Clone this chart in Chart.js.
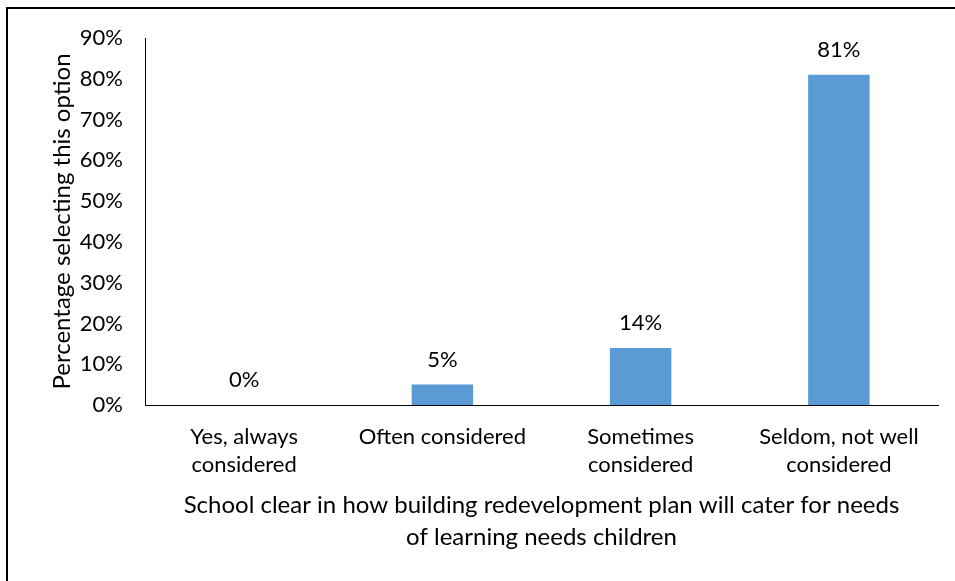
<!DOCTYPE html>
<html>
<head>
<meta charset="utf-8">
<script src="https://cdn.jsdelivr.net/npm/chart.js@4/dist/chart.umd.min.js"></script>
<style>
  html, body { margin: 0; padding: 0; background: #fff; }
  #wrap { width: 955px; height: 581px; position: relative; }
</style>
</head>
<body>
<div id="wrap"><canvas id="c" width="955" height="581"></canvas></div>
<script>
// Survey responses: share of schools choosing each option
const categories = [
  ['Yes, always', 'considered'],
  ['Often considered'],
  ['Sometimes', 'considered'],
  ['Seldom, not well', 'considered']
];
const percentages = [0, 5, 14, 81];
const yTicks = [0, 10, 20, 30, 40, 50, 60, 70, 80, 90];
const yTitle = 'Percentage selecting this option';
const xTitle = [
  'School clear in how building redevelopment plan will cater for needs',
  'of learning needs children'
];

const FONT = 'Lato, "Open Sans", sans-serif';

// Value labels above each bar, plus the frame lines along the top and left
const decorations = {
  id: 'decorations',
  afterDatasetsDraw(chart) {
    const ctx = chart.ctx;
    const meta = chart.getDatasetMeta(0);
    ctx.save();
    ctx.fillStyle = '#000';
    ctx.font = '22px ' + FONT;
    ctx.textAlign = 'center';
    ctx.textBaseline = 'middle';
    meta.data.forEach((bar, i) => {
      ctx.fillText(percentages[i] + '%', bar.x, bar.y - 25);
    });
    ctx.restore();
  },
  afterDraw(chart) {
    const ctx = chart.ctx;
    ctx.save();
    ctx.strokeStyle = '#000';
    ctx.lineWidth = 2;
    ctx.beginPath();
    ctx.moveTo(7, 581);
    ctx.lineTo(7, 8);
    ctx.lineTo(955, 8);
    ctx.stroke();
    ctx.restore();
  }
};

new Chart(document.getElementById('c'), {
  type: 'bar',
  data: {
    labels: categories,
    datasets: [{
      data: percentages,
      backgroundColor: '#5B9BD5',
      borderWidth: 0,
      barPercentage: 0.31,
      categoryPercentage: 1.0
    }]
  },
  options: {
    responsive: false,
    animation: false,
    devicePixelRatio: 1,
    layout: { padding: { top: 38, right: 17, bottom: 0, left: 0 } },
    plugins: {
      legend: { display: false },
      tooltip: { enabled: false }
    },
    scales: {
      x: {
        grid: { display: false, drawTicks: false },
        border: { display: true, color: '#000', width: 1 },
        ticks: {
          color: '#000',
          font: { family: FONT, size: 22, lineHeight: 1.27 },
          padding: 18,
          maxRotation: 0,
          autoSkip: false
        },
        title: {
          display: true,
          text: xTitle,
          color: '#000',
          font: { family: FONT, size: 24, lineHeight: 1.33 },
          padding: { top: 0, bottom: 28 }
        },
        afterFit(scale) { scale.height = 176; }
      },
      y: {
        min: 0,
        max: 90,
        grid: { display: false, drawTicks: false },
        border: { display: true, color: '#000', width: 1 },
        afterBuildTicks(scale) {
          scale.ticks = yTicks.map(v => ({ value: v }));
        },
        ticks: {
          color: '#000',
          font: { family: FONT, size: 22 },
          padding: 22,
          callback: v => v + '%'
        },
        title: {
          display: true,
          text: yTitle,
          color: '#000',
          font: { family: FONT, size: 24 },
          padding: { top: 48, bottom: 0 }
        },
        afterFit(scale) { scale.width = 145; }
      }
    }
  },
  plugins: [decorations]
});
</script>
</body>
</html>
